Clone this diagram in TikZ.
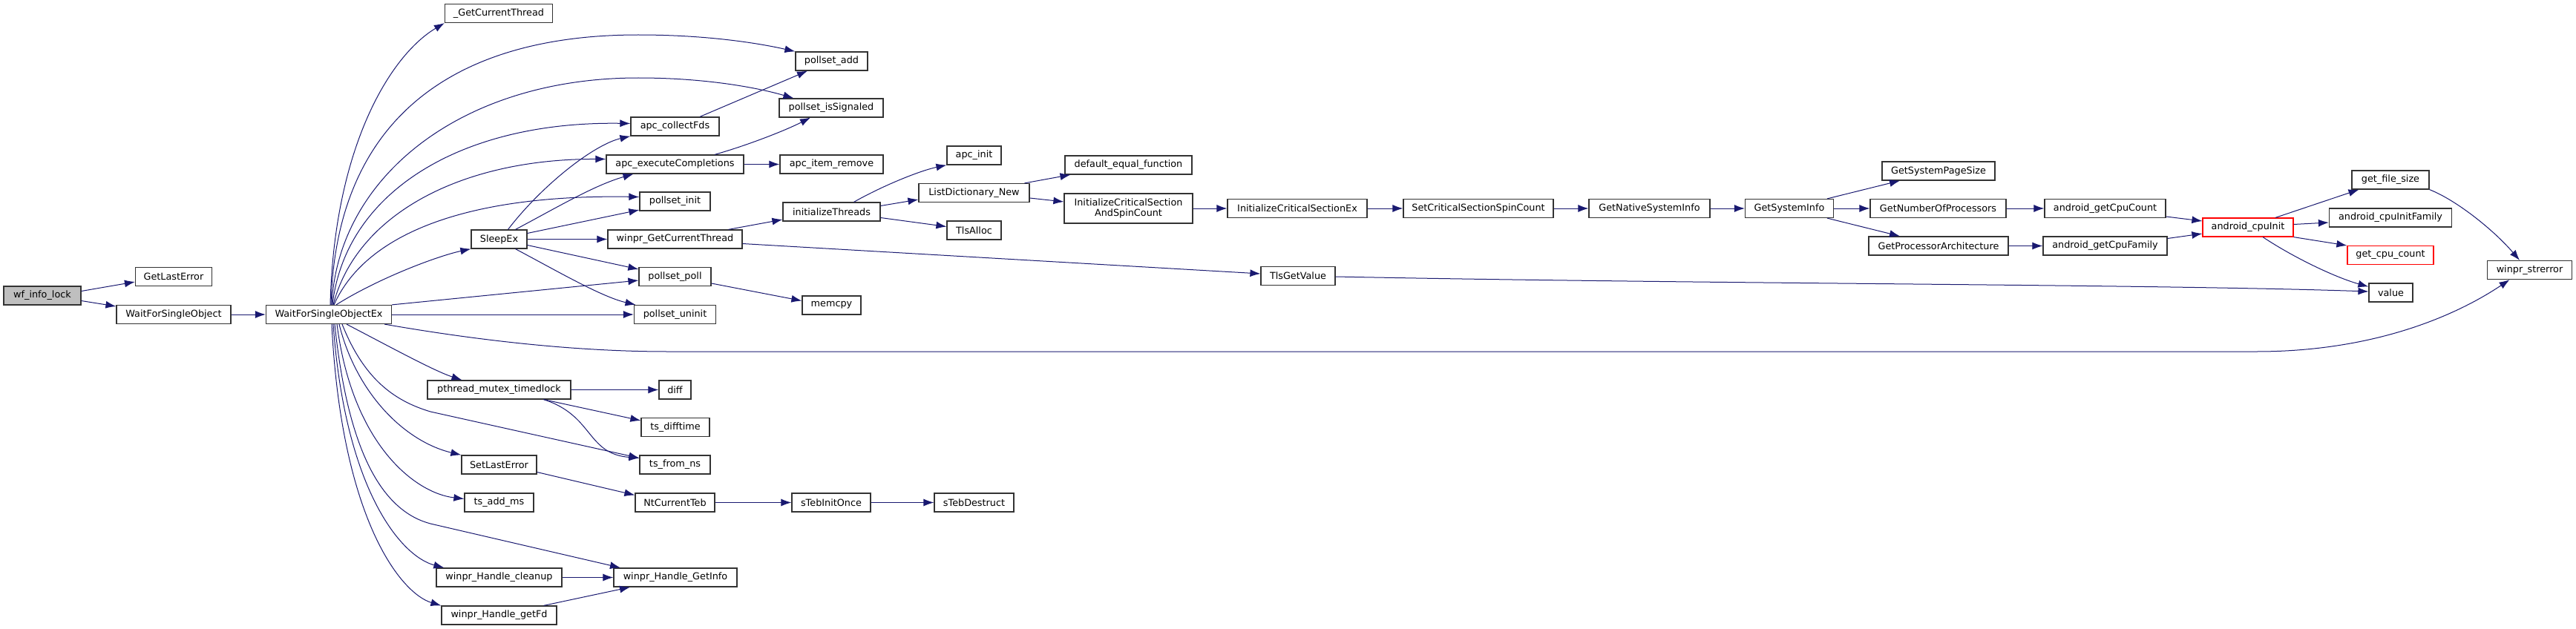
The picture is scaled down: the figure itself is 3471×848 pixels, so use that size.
\documentclass[tikz,border=0pt]{standalone}
\usepackage{fontspec}
\setmainfont{DejaVu Sans}
\usetikzlibrary{arrows.meta}
\definecolor{edgeblue}{HTML}{191970}

\begin{document}
\begin{tikzpicture}[x=1pt,y=-1pt,
	fn/.style={draw=black!80, line width=1.2pt, fill=white, rectangle, minimum height=25pt, inner sep=2pt, font=\fontsize{12.8}{14.5}\selectfont},
	root/.style={fn, fill=black!25},
	redfn/.style={fn, draw=red},
	call/.style={draw=edgeblue, line width=1pt, -{Latex[length=14pt,width=10pt]}}]
		\useasboundingbox (0,0) rectangle (3471,848);
		% functions
		\node[root, minimum width=104pt] (wfinfo) at (57,398.5) {wf\_info\_lock};
		\node[fn, minimum width=103pt] (getlasterr) at (234,373) {GetLastError};
		\node[fn, minimum width=154pt] (wfso) at (234,424) {WaitForSingleObject};
		\node[fn, minimum width=169pt] (wfsoex) at (443,424) {WaitForSingleObjectEx};
		\node[fn, minimum width=145pt] (gct) at (672,18) {\_GetCurrentThread};
		\node[fn, minimum width=97pt] (padd) at (1120.5,82.5) {pollset\_add};
		\node[fn, minimum width=140pt] (psig) at (1120,145.5) {pollset\_isSignaled};
		\node[fn, minimum width=119pt] (collect) at (909.5,170.5) {apc\_collectFds};
		\node[fn, minimum width=185pt] (execc) at (909.5,221.5) {apc\_executeCompletions};
		\node[fn, minimum width=139pt] (itemrm) at (1120.5,221.5) {apc\_item\_remove};
		\node[fn, minimum width=95pt] (pinit) at (909.5,271.5) {pollset\_init};
		\node[fn, minimum width=75pt] (sleepex) at (672.5,322.5) {SleepEx};
		\node[fn, minimum width=181pt] (wgct) at (909.5,322.5) {winpr\_GetCurrentThread};
		\node[fn, minimum width=131pt] (initthr) at (1120.5,285.5) {initializeThreads};
		\node[fn, minimum width=97pt] (ppoll) at (909.5,373) {pollset\_poll};
		\node[fn, minimum width=79pt] (memcpy) at (1120.5,411.5) {memcpy};
		\node[fn, minimum width=110pt] (puninit) at (909.5,424) {pollset\_uninit};
		\node[fn, minimum width=193pt] (pmtl) at (672.5,525.5) {pthread\_mutex\_timedlock};
		\node[fn, minimum width=43pt] (diff) at (909.5,525.5) {diff};
		\node[fn, minimum width=92pt] (tsdiff) at (910,576) {ts\_difftime};
		\node[fn, minimum width=95pt] (tsfrom) at (909.5,626.5) {ts\_from\_ns};
		\node[fn, minimum width=101pt] (setlasterr) at (672.5,626.5) {SetLastError};
		\node[fn, minimum width=93pt] (tsadd) at (672.5,677.5) {ts\_add\_ms};
		\node[fn, minimum width=107pt] (ntteb) at (909.5,677.5) {NtCurrentTeb};
		\node[fn, minimum width=106pt] (tebonce) at (1120,677.5) {sTebInitOnce};
		\node[fn, minimum width=107pt] (tebdestr) at (1312.5,677.5) {sTebDestruct};
		\node[fn, minimum width=166pt] (hgetinfo) at (910,778.5) {winpr\_Handle\_GetInfo};
		\node[fn, minimum width=169pt] (hcleanup) at (672.5,778.5) {winpr\_Handle\_cleanup};
		\node[fn, minimum width=155pt] (hgetfd) at (672.5,829.5) {winpr\_Handle\_getFd};
		\node[fn, minimum width=73pt] (apcinit) at (1312.5,209.5) {apc\_init};
		\node[fn, minimum width=149pt] (ldnew) at (1312.5,260) {ListDictionary\_New};
		\node[fn, minimum width=73pt] (tlsalloc) at (1312.5,310.5) {TlsAlloc};
		\node[fn, minimum width=171pt] (defeq) at (1520.5,222.5) {default\_equal\_function};
		\node[fn, minimum width=173pt, minimum height=40pt, align=center] (icsspin) at (1520.5,281) {InitializeCriticalSection\\AndSpinCount};
		\node[fn, minimum width=100pt] (tlsget) at (1749,372) {TlsGetValue};
		\node[fn, minimum width=188pt] (icsex) at (1748,281) {InitializeCriticalSectionEx};
		\node[fn, minimum width=202pt] (setspin) at (1992,281) {SetCriticalSectionSpinCount};
		\node[fn, minimum width=163pt] (nativeinfo) at (2222.5,281) {GetNativeSystemInfo};
		\node[fn, minimum width=119pt] (sysinfo) at (2411,281) {GetSystemInfo};
		\node[fn, minimum width=152pt] (pagesize) at (2612,230.5) {GetSystemPageSize};
		\node[fn, minimum width=183pt] (numproc) at (2611.5,281) {GetNumberOfProcessors};
		\node[fn, minimum width=188pt] (procarch) at (2612,331.5) {GetProcessorArchitecture};
		\node[fn, minimum width=163pt] (cpucount) at (2836.5,281) {android\_getCpuCount};
		\node[fn, minimum width=167pt] (cpufamily) at (2836.5,331.5) {android\_getCpuFamily};
		\node[redfn, minimum width=122pt] (cpuinit) at (3029,306.5) {android\_cpuInit};
		\node[fn, minimum width=104pt] (filesize) at (3221,242.5) {get\_file\_size};
		\node[fn, minimum width=165pt] (initfam) at (3221,293.5) {android\_cpuInitFamily};
		\node[redfn, minimum width=116pt] (getcpucnt) at (3221,344) {get\_cpu\_count};
		\node[fn, minimum width=59pt] (value) at (3221.5,394.5) {value};
		\node[fn, minimum width=114pt] (strerror) at (3408.5,364) {winpr\_strerror};
		% calls
		\draw[call] ([yshift=6pt]wfinfo.east) -- ([yshift=-7pt]getlasterr.west);
		\draw[call] ([yshift=-7pt]wfinfo.east) -- ([yshift=11pt]wfso.west);
		\draw[call] (wfso) -- (wfsoex);
		\draw[call] ([xshift=2pt]wfsoex.north) .. controls (450,200) and (525,75) .. (gct.south west);
		\draw[call] ([xshift=3pt]wfsoex.north) .. controls (452,170) and (600,47) .. (860,47) .. controls (960,47) and (1030,60) .. (padd.north west);
		\draw[call] ([xshift=4pt]wfsoex.north) .. controls (455,240) and (620,105) .. (860,105) .. controls (950,105) and (1020,118) .. ([xshift=20pt]psig.north west);
		\draw[call] ([xshift=5pt]wfsoex.north) .. controls (465,260) and (620,163) .. ([yshift=4pt]collect.west);
		\draw[call] ([xshift=6pt]wfsoex.north) .. controls (480,290) and (620,214) .. ([yshift=7pt]execc.west);
		\draw[call] ([xshift=7pt]wfsoex.north) .. controls (495,310) and (640,262) .. ([yshift=6pt]pinit.west);
		\draw[call] ([xshift=10pt]wfsoex.north) .. controls (510,375) and (590,345) .. (sleepex.south west);
		\draw[call] (wfsoex.north east) -- ([yshift=-5pt]ppoll.west);
		\draw[call] (wfsoex.east) -- (puninit.west);
		\draw[call] ([xshift=-10pt]wfsoex.south east) .. controls (650,460) and (780,474) .. (900,474) -- (3040,474) .. controls (3200,474) and (3310,425) .. ([xshift=-27pt]strerror.south);
		\draw[call] ([xshift=24pt]wfsoex.south) .. controls (530,470) and (585,500) .. ([xshift=-50pt]pmtl.north);
		\draw[call] ([xshift=18pt]wfsoex.south) .. controls (490,510) and (530,540) .. (580,555) -- ([yshift=9pt]tsfrom.west);
		\draw[call] ([xshift=14pt]wfsoex.south) .. controls (480,530) and (545,595) .. (setlasterr.north west);
		\draw[call] ([xshift=11pt]wfsoex.south) .. controls (475,600) and (560,665) .. ([yshift=5pt]tsadd.west);
		\draw[call] ([xshift=8pt]wfsoex.south) .. controls (470,620) and (520,690) .. (580,706) -- ([xshift=-74pt]hgetinfo.north);
		\draw[call] ([xshift=6pt]wfsoex.south) .. controls (465,660) and (540,750) .. ([xshift=11pt]hcleanup.north west);
		\draw[call] ([xshift=4pt]wfsoex.south) .. controls (460,700) and (540,800) .. (hgetfd.north west);
		\draw[call] ([xshift=12pt]sleepex.north) .. controls (730,250) and (800,195) .. (collect.south west);
		\draw[call] ([xshift=22pt]sleepex.north) .. controls (750,280) and (800,250) .. ([xshift=-56pt]execc.south);
		\draw[call] ([yshift=8pt]sleepex.east) -- ([yshift=-11.5pt]pinit.west);
		\draw[call] (sleepex) -- (wgct);
		\draw[call] ([yshift=-8pt]sleepex.east) -- ([yshift=10pt]ppoll.west);
		\draw[call] ([xshift=22pt]sleepex.south) .. controls (750,365) and (810,400) .. ([xshift=-53pt]puninit.north);
		\draw[call] ([xshift=33.5pt]collect.north) -- ([xshift=-32.5pt]padd.south);
		\draw[call] ([xshift=53.5pt]execc.north) .. controls (1010,195) and (1060,175) .. ([xshift=-28pt]psig.south);
		\draw[call] (execc) -- (itemrm);
		\draw[call] ([yshift=-9pt]ppoll.east) -- ([yshift=6pt]memcpy.west);
		\draw[call] ([xshift=72pt]wgct.north) -- ([yshift=-10.5pt]initthr.west);
		\draw[call] ([yshift=-6pt]wgct.east) -- ([yshift=3pt]tlsget.west);
		\draw[call] ([xshift=30pt]initthr.north) .. controls (1190,250) and (1240,230) .. (apcinit.south west);
		\draw[call] ([yshift=8pt]initthr.east) -- ([yshift=-9pt]ldnew.west);
		\draw[call] ([yshift=-8pt]initthr.east) -- ([yshift=5pt]tlsalloc.west);
		\draw[call] ([xshift=68pt]ldnew.north) -- ([xshift=-78pt]defeq.south);
		\draw[call] ([yshift=-7pt]ldnew.east) -- ([yshift=9pt]icsspin.west);
		\draw[call] (icsspin.east) -- (icsex.west);
		\draw[call] (icsex) -- (setspin);
		\draw[call] (setspin) -- (nativeinfo);
		\draw[call] (nativeinfo) -- (sysinfo);
		\draw[call] ([xshift=51pt]sysinfo.north) -- ([xshift=-52pt]pagesize.south);
		\draw[call] (sysinfo) -- (numproc);
		\draw[call] ([xshift=51pt]sysinfo.south) -- ([xshift=-52pt]procarch.north);
		\draw[call] (numproc) -- (cpucount);
		\draw[call] (procarch) -- (cpufamily);
		\draw[call] ([yshift=-11pt]cpucount.east) -- ([yshift=8.5pt]cpuinit.west);
		\draw[call] ([yshift=10pt]cpufamily.east) -- ([yshift=-8.5pt]cpuinit.west);
		\draw[call] ([xshift=37pt]cpuinit.north) -- ([xshift=-42.5pt]filesize.south);
		\draw[call] ([yshift=4pt]cpuinit.east) -- ([yshift=-6.5pt]initfam.west);
		\draw[call] (cpuinit.south east) -- ([yshift=13pt]getcpucnt.west);
		\draw[call] ([xshift=20pt]cpuinit.south) .. controls (3095,350) and (3150,375) .. ([yshift=8pt]value.west);
		\draw[call] (filesize.south east) .. controls (3310,270) and (3360,310) .. ([xshift=-13.5pt]strerror.north);
		\draw[call] ([yshift=-1pt]tlsget.east) .. controls (2300,383) and (2900,383) .. ([yshift=1.5pt]value.west);
		\draw[call] (pmtl) -- (diff);
		\draw[call] ([xshift=60pt]pmtl.south) -- ([yshift=9pt]tsdiff.west);
		\draw[call] ([xshift=60pt]pmtl.south) .. controls (800,560) and (790,612) .. ([yshift=9pt]tsfrom.west);
		\draw[call] ([yshift=-10pt]setlasterr.east) -- ([yshift=10pt]ntteb.west);
		\draw[call] (ntteb) -- (tebonce);
		\draw[call] (tebonce) -- (tebdestr);
		\draw[call] (hcleanup) -- (hgetinfo);
		\draw[call] ([xshift=60pt]hgetfd.north) -- ([xshift=-61pt]hgetinfo.south);
	\end{tikzpicture}
\end{document}
